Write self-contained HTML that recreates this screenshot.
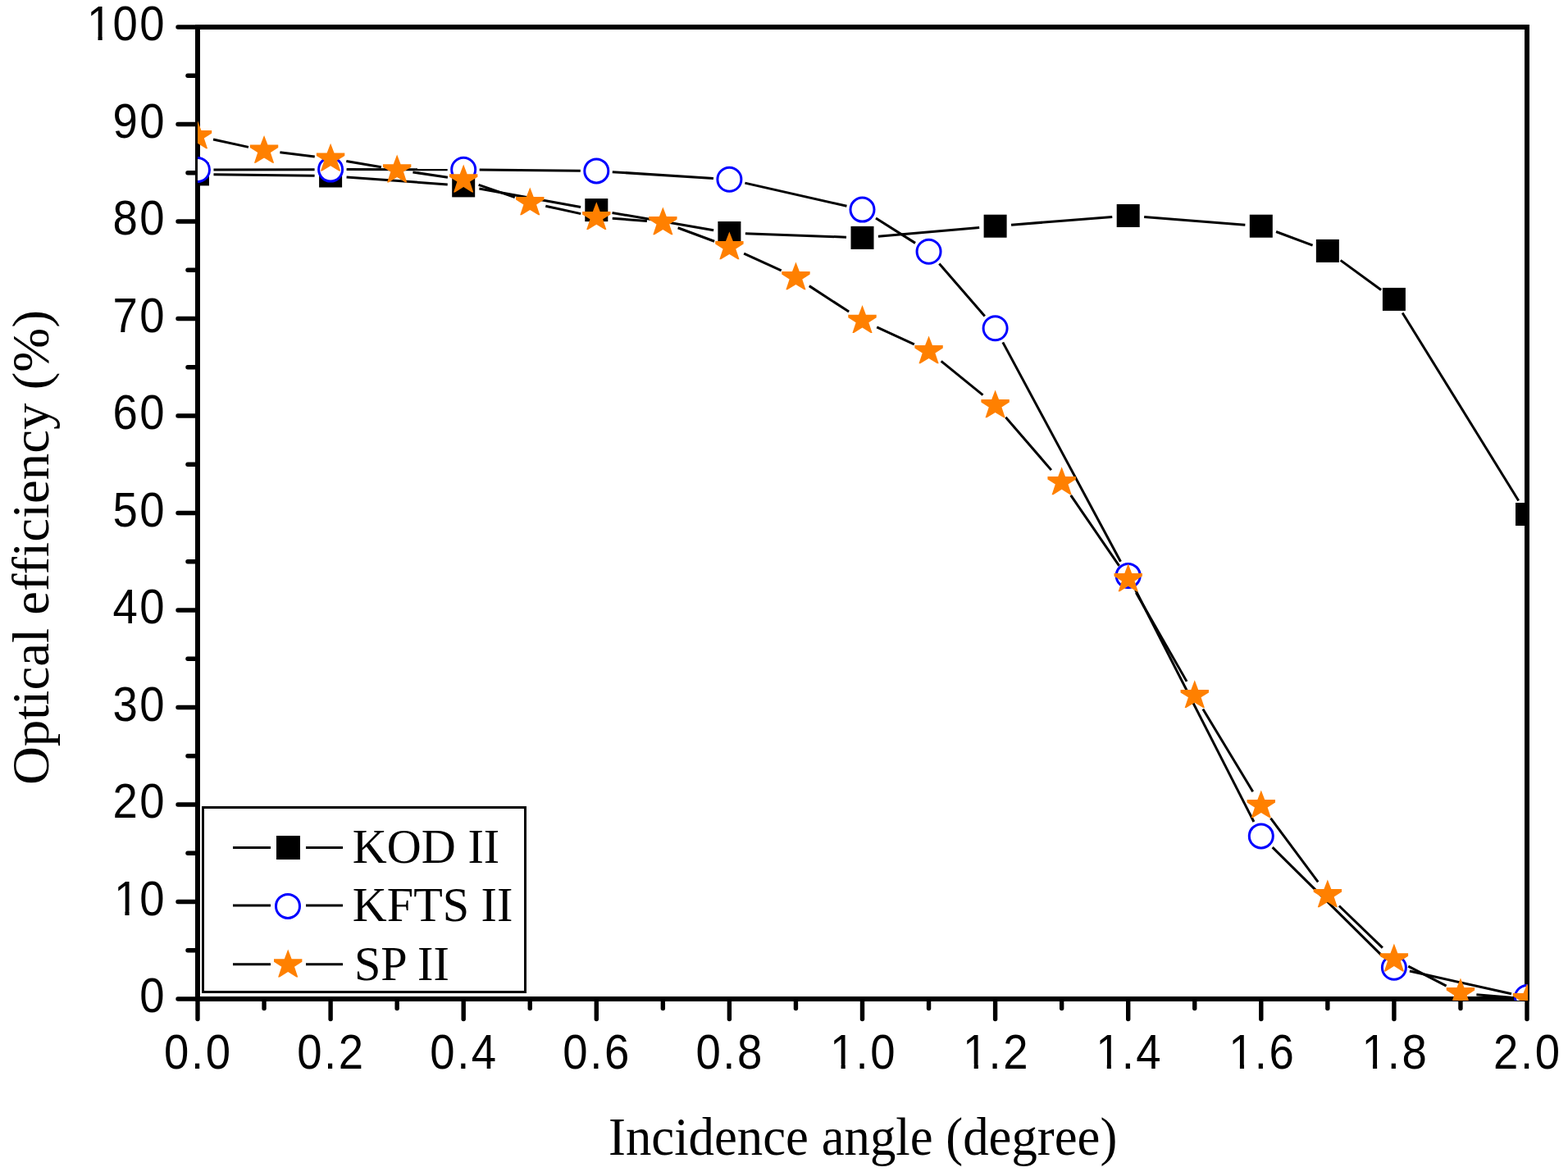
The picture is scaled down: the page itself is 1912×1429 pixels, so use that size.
<!DOCTYPE html>
<html><head><meta charset="utf-8"><title>Optical efficiency vs incidence angle</title>
<style>html,body{margin:0;padding:0;background:#fff;} body{width:1912px;height:1429px;overflow:hidden;} svg{display:block;}</style>
</head><body>
<svg width="1912" height="1429" viewBox="0 0 1912 1429">
<defs><clipPath id="pc"><rect x="241" y="33" width="1622" height="1187"/></clipPath></defs>
<rect width="1912" height="1429" fill="#fff"/>
<g stroke="#000" stroke-width="5.4" stroke-linecap="round">
<line x1="217" y1="1218.00" x2="241" y2="1218.00"/>
<line x1="229" y1="1158.75" x2="241" y2="1158.75"/>
<line x1="217" y1="1099.50" x2="241" y2="1099.50"/>
<line x1="229" y1="1040.25" x2="241" y2="1040.25"/>
<line x1="217" y1="981.00" x2="241" y2="981.00"/>
<line x1="229" y1="921.75" x2="241" y2="921.75"/>
<line x1="217" y1="862.50" x2="241" y2="862.50"/>
<line x1="229" y1="803.25" x2="241" y2="803.25"/>
<line x1="217" y1="744.00" x2="241" y2="744.00"/>
<line x1="229" y1="684.75" x2="241" y2="684.75"/>
<line x1="217" y1="625.50" x2="241" y2="625.50"/>
<line x1="229" y1="566.25" x2="241" y2="566.25"/>
<line x1="217" y1="507.00" x2="241" y2="507.00"/>
<line x1="229" y1="447.75" x2="241" y2="447.75"/>
<line x1="217" y1="388.50" x2="241" y2="388.50"/>
<line x1="229" y1="329.25" x2="241" y2="329.25"/>
<line x1="217" y1="270.00" x2="241" y2="270.00"/>
<line x1="229" y1="210.75" x2="241" y2="210.75"/>
<line x1="217" y1="151.50" x2="241" y2="151.50"/>
<line x1="229" y1="92.25" x2="241" y2="92.25"/>
<line x1="217" y1="33.00" x2="241" y2="33.00"/>
<line x1="241.00" y1="1218" x2="241.00" y2="1242.5"/>
<line x1="322.05" y1="1218" x2="322.05" y2="1229.5"/>
<line x1="403.10" y1="1218" x2="403.10" y2="1242.5"/>
<line x1="484.15" y1="1218" x2="484.15" y2="1229.5"/>
<line x1="565.20" y1="1218" x2="565.20" y2="1242.5"/>
<line x1="646.25" y1="1218" x2="646.25" y2="1229.5"/>
<line x1="727.30" y1="1218" x2="727.30" y2="1242.5"/>
<line x1="808.35" y1="1218" x2="808.35" y2="1229.5"/>
<line x1="889.40" y1="1218" x2="889.40" y2="1242.5"/>
<line x1="970.45" y1="1218" x2="970.45" y2="1229.5"/>
<line x1="1051.50" y1="1218" x2="1051.50" y2="1242.5"/>
<line x1="1132.55" y1="1218" x2="1132.55" y2="1229.5"/>
<line x1="1213.60" y1="1218" x2="1213.60" y2="1242.5"/>
<line x1="1294.65" y1="1218" x2="1294.65" y2="1229.5"/>
<line x1="1375.70" y1="1218" x2="1375.70" y2="1242.5"/>
<line x1="1456.75" y1="1218" x2="1456.75" y2="1229.5"/>
<line x1="1537.80" y1="1218" x2="1537.80" y2="1242.5"/>
<line x1="1618.85" y1="1218" x2="1618.85" y2="1229.5"/>
<line x1="1699.90" y1="1218" x2="1699.90" y2="1242.5"/>
<line x1="1780.95" y1="1218" x2="1780.95" y2="1229.5"/>
<line x1="1862.00" y1="1218" x2="1862.00" y2="1242.5"/>
</g>
<rect x="241" y="33" width="1621" height="1185" fill="none" stroke="#000" stroke-width="6"/>
<rect x="247.5" y="984.5" width="393" height="225" fill="none" stroke="#000" stroke-width="3"/>
<g clip-path="url(#pc)">
<g stroke="#000" stroke-width="3.0" fill="none">
<line x1="260.50" y1="212.65" x2="383.60" y2="214.25"/>
<line x1="422.55" y1="215.93" x2="545.75" y2="224.97"/>
<line x1="584.38" y1="229.91" x2="708.12" y2="252.59"/>
<line x1="746.52" y1="259.41" x2="870.18" y2="280.69"/>
<line x1="908.89" y1="284.71" x2="1032.01" y2="289.19"/>
<line x1="1070.93" y1="288.20" x2="1194.17" y2="277.40"/>
<line x1="1233.04" y1="274.18" x2="1356.26" y2="264.52"/>
<line x1="1395.14" y1="264.52" x2="1518.36" y2="274.18"/>
<line x1="1556.07" y1="282.51" x2="1600.58" y2="299.09"/>
<line x1="1634.62" y1="317.38" x2="1684.13" y2="353.42"/>
<line x1="1710.16" y1="381.48" x2="1851.74" y2="610.42"/>
</g>
<g fill="#000">
<rect x="227.00" y="198.40" width="28.0" height="28.0"/>
<rect x="389.10" y="200.50" width="28.0" height="28.0"/>
<rect x="551.20" y="212.40" width="28.0" height="28.0"/>
<rect x="713.30" y="242.10" width="28.0" height="28.0"/>
<rect x="875.40" y="270.00" width="28.0" height="28.0"/>
<rect x="1037.50" y="275.90" width="28.0" height="28.0"/>
<rect x="1199.60" y="261.70" width="28.0" height="28.0"/>
<rect x="1361.70" y="249.00" width="28.0" height="28.0"/>
<rect x="1523.80" y="261.70" width="28.0" height="28.0"/>
<rect x="1604.85" y="291.90" width="28.0" height="28.0"/>
<rect x="1685.90" y="350.90" width="28.0" height="28.0"/>
<rect x="1848.00" y="613.00" width="28.0" height="28.0"/>
</g>
<g stroke="#000" stroke-width="3.0" fill="none">
<line x1="260.50" y1="206.95" x2="383.60" y2="206.65"/>
<line x1="422.60" y1="206.62" x2="545.70" y2="206.78"/>
<line x1="584.70" y1="206.99" x2="707.80" y2="208.21"/>
<line x1="746.76" y1="209.65" x2="869.94" y2="217.55"/>
<line x1="908.42" y1="223.12" x2="1032.48" y2="251.28"/>
<line x1="1067.99" y1="266.01" x2="1116.06" y2="296.39"/>
<line x1="1145.33" y1="321.53" x2="1200.82" y2="385.47"/>
<line x1="1222.83" y1="417.38" x2="1366.47" y2="684.72"/>
<line x1="1384.57" y1="719.27" x2="1528.93" y2="1002.03"/>
<line x1="1551.66" y1="1033.12" x2="1686.04" y2="1166.08"/>
<line x1="1718.93" y1="1184.05" x2="1842.97" y2="1211.75"/>
</g>
<g fill="#fff" stroke="#0000ff" stroke-width="3.0">
<circle cx="241.00" cy="207.00" r="14.5"/>
<circle cx="403.10" cy="206.60" r="14.5"/>
<circle cx="565.20" cy="206.80" r="14.5"/>
<circle cx="727.30" cy="208.40" r="14.5"/>
<circle cx="889.40" cy="218.80" r="14.5"/>
<circle cx="1051.50" cy="255.60" r="14.5"/>
<circle cx="1132.55" cy="306.80" r="14.5"/>
<circle cx="1213.60" cy="400.20" r="14.5"/>
<circle cx="1375.70" cy="701.90" r="14.5"/>
<circle cx="1537.80" cy="1019.40" r="14.5"/>
<circle cx="1699.90" cy="1179.80" r="14.5"/>
<circle cx="1862.00" cy="1216.00" r="14.5"/>
</g>
<g stroke="#000" stroke-width="3.0" fill="none">
<line x1="260.06" y1="170.04" x2="302.99" y2="179.36"/>
<line x1="341.41" y1="185.84" x2="383.74" y2="190.96"/>
<line x1="422.32" y1="196.57" x2="464.93" y2="203.83"/>
<line x1="503.44" y1="209.96" x2="545.91" y2="216.24"/>
<line x1="583.64" y1="225.45" x2="627.81" y2="240.65"/>
<line x1="665.30" y1="251.18" x2="708.25" y2="260.62"/>
<line x1="746.74" y1="266.29" x2="788.91" y2="269.51"/>
<line x1="826.64" y1="277.77" x2="871.11" y2="294.23"/>
<line x1="907.14" y1="309.10" x2="952.71" y2="329.90"/>
<line x1="986.80" y1="348.63" x2="1035.15" y2="380.07"/>
<line x1="1069.21" y1="398.85" x2="1114.84" y2="419.85"/>
<line x1="1147.67" y1="440.31" x2="1198.48" y2="481.69"/>
<line x1="1226.34" y1="508.76" x2="1281.91" y2="573.14"/>
<line x1="1305.69" y1="603.97" x2="1364.66" y2="689.83"/>
<line x1="1385.37" y1="722.83" x2="1447.08" y2="830.87"/>
<line x1="1466.83" y1="864.49" x2="1527.72" y2="965.31"/>
<line x1="1549.44" y1="997.65" x2="1607.21" y2="1075.35"/>
<line x1="1632.88" y1="1104.54" x2="1685.87" y2="1155.66"/>
<line x1="1717.23" y1="1178.14" x2="1763.62" y2="1202.06"/>
<line x1="1800.38" y1="1212.68" x2="1842.57" y2="1216.32"/>
</g>
<g fill="#ff8000">
<polygon points="241.00,147.30 245.45,159.00 258.20,159.00 258.20,162.50 248.85,168.40 253.10,181.20 251.30,181.20 241.00,174.80 230.70,181.20 228.90,181.20 233.15,168.40 223.80,162.50 223.80,159.00 236.55,159.00"/>
<polygon points="322.05,164.90 326.50,176.60 339.25,176.60 339.25,180.10 329.90,186.00 334.15,198.80 332.35,198.80 322.05,192.40 311.75,198.80 309.95,198.80 314.20,186.00 304.85,180.10 304.85,176.60 317.60,176.60"/>
<polygon points="403.10,174.70 407.55,186.40 420.30,186.40 420.30,189.90 410.95,195.80 415.20,208.60 413.40,208.60 403.10,202.20 392.80,208.60 391.00,208.60 395.25,195.80 385.90,189.90 385.90,186.40 398.65,186.40"/>
<polygon points="484.15,188.50 488.60,200.20 501.35,200.20 501.35,203.70 492.00,209.60 496.25,222.40 494.45,222.40 484.15,216.00 473.85,222.40 472.05,222.40 476.30,209.60 466.95,203.70 466.95,200.20 479.70,200.20"/>
<polygon points="565.20,200.50 569.65,212.20 582.40,212.20 582.40,215.70 573.05,221.60 577.30,234.40 575.50,234.40 565.20,228.00 554.90,234.40 553.10,234.40 557.35,221.60 548.00,215.70 548.00,212.20 560.75,212.20"/>
<polygon points="646.25,228.40 650.70,240.10 663.45,240.10 663.45,243.60 654.10,249.50 658.35,262.30 656.55,262.30 646.25,255.90 635.95,262.30 634.15,262.30 638.40,249.50 629.05,243.60 629.05,240.10 641.80,240.10"/>
<polygon points="727.30,246.20 731.75,257.90 744.50,257.90 744.50,261.40 735.15,267.30 739.40,280.10 737.60,280.10 727.30,273.70 717.00,280.10 715.20,280.10 719.45,267.30 710.10,261.40 710.10,257.90 722.85,257.90"/>
<polygon points="808.35,252.40 812.80,264.10 825.55,264.10 825.55,267.60 816.20,273.50 820.45,286.30 818.65,286.30 808.35,279.90 798.05,286.30 796.25,286.30 800.50,273.50 791.15,267.60 791.15,264.10 803.90,264.10"/>
<polygon points="889.40,282.40 893.85,294.10 906.60,294.10 906.60,297.60 897.25,303.50 901.50,316.30 899.70,316.30 889.40,309.90 879.10,316.30 877.30,316.30 881.55,303.50 872.20,297.60 872.20,294.10 884.95,294.10"/>
<polygon points="970.45,319.40 974.90,331.10 987.65,331.10 987.65,334.60 978.30,340.50 982.55,353.30 980.75,353.30 970.45,346.90 960.15,353.30 958.35,353.30 962.60,340.50 953.25,334.60 953.25,331.10 966.00,331.10"/>
<polygon points="1051.50,372.10 1055.95,383.80 1068.70,383.80 1068.70,387.30 1059.35,393.20 1063.60,406.00 1061.80,406.00 1051.50,399.60 1041.20,406.00 1039.40,406.00 1043.65,393.20 1034.30,387.30 1034.30,383.80 1047.05,383.80"/>
<polygon points="1132.55,409.40 1137.00,421.10 1149.75,421.10 1149.75,424.60 1140.40,430.50 1144.65,443.30 1142.85,443.30 1132.55,436.90 1122.25,443.30 1120.45,443.30 1124.70,430.50 1115.35,424.60 1115.35,421.10 1128.10,421.10"/>
<polygon points="1213.60,475.40 1218.05,487.10 1230.80,487.10 1230.80,490.60 1221.45,496.50 1225.70,509.30 1223.90,509.30 1213.60,502.90 1203.30,509.30 1201.50,509.30 1205.75,496.50 1196.40,490.60 1196.40,487.10 1209.15,487.10"/>
<polygon points="1294.65,569.30 1299.10,581.00 1311.85,581.00 1311.85,584.50 1302.50,590.40 1306.75,603.20 1304.95,603.20 1294.65,596.80 1284.35,603.20 1282.55,603.20 1286.80,590.40 1277.45,584.50 1277.45,581.00 1290.20,581.00"/>
<polygon points="1375.70,687.30 1380.15,699.00 1392.90,699.00 1392.90,702.50 1383.55,708.40 1387.80,721.20 1386.00,721.20 1375.70,714.80 1365.40,721.20 1363.60,721.20 1367.85,708.40 1358.50,702.50 1358.50,699.00 1371.25,699.00"/>
<polygon points="1456.75,829.20 1461.20,840.90 1473.95,840.90 1473.95,844.40 1464.60,850.30 1468.85,863.10 1467.05,863.10 1456.75,856.70 1446.45,863.10 1444.65,863.10 1448.90,850.30 1439.55,844.40 1439.55,840.90 1452.30,840.90"/>
<polygon points="1537.80,963.40 1542.25,975.10 1555.00,975.10 1555.00,978.60 1545.65,984.50 1549.90,997.30 1548.10,997.30 1537.80,990.90 1527.50,997.30 1525.70,997.30 1529.95,984.50 1520.60,978.60 1520.60,975.10 1533.35,975.10"/>
<polygon points="1618.85,1072.40 1623.30,1084.10 1636.05,1084.10 1636.05,1087.60 1626.70,1093.50 1630.95,1106.30 1629.15,1106.30 1618.85,1099.90 1608.55,1106.30 1606.75,1106.30 1611.00,1093.50 1601.65,1087.60 1601.65,1084.10 1614.40,1084.10"/>
<polygon points="1699.90,1150.60 1704.35,1162.30 1717.10,1162.30 1717.10,1165.80 1707.75,1171.70 1712.00,1184.50 1710.20,1184.50 1699.90,1178.10 1689.60,1184.50 1687.80,1184.50 1692.05,1171.70 1682.70,1165.80 1682.70,1162.30 1695.45,1162.30"/>
<polygon points="1780.95,1192.40 1785.40,1204.10 1798.15,1204.10 1798.15,1207.60 1788.80,1213.50 1793.05,1226.30 1791.25,1226.30 1780.95,1219.90 1770.65,1226.30 1768.85,1226.30 1773.10,1213.50 1763.75,1207.60 1763.75,1204.10 1776.50,1204.10"/>
<polygon points="1862.00,1199.40 1866.45,1211.10 1879.20,1211.10 1879.20,1214.60 1869.85,1220.50 1874.10,1233.30 1872.30,1233.30 1862.00,1226.90 1851.70,1233.30 1849.90,1233.30 1854.15,1220.50 1844.80,1214.60 1844.80,1211.10 1857.55,1211.10"/>
</g>
</g>
<g font-family="'Liberation Sans', Arial, sans-serif" font-size="59.3" letter-spacing="2.79" fill="#000" text-anchor="end">
<text transform="translate(203.20,1234.00) scale(0.920,1)">0</text>
<text transform="translate(201.70,1115.50) scale(0.920,1)"><tspan dx="1.63">1</tspan><tspan dx="-1.63">0</tspan></text>
<text transform="translate(203.20,997.00) scale(0.920,1)">20</text>
<text transform="translate(203.20,878.50) scale(0.920,1)">30</text>
<text transform="translate(203.20,760.00) scale(0.920,1)">40</text>
<text transform="translate(203.20,641.50) scale(0.920,1)">50</text>
<text transform="translate(203.20,523.00) scale(0.920,1)">60</text>
<text transform="translate(203.20,404.50) scale(0.920,1)">70</text>
<text transform="translate(203.20,286.00) scale(0.920,1)">80</text>
<text transform="translate(203.20,167.50) scale(0.920,1)">90</text>
<text transform="translate(201.70,49.00) scale(0.920,1)"><tspan dx="1.63">1</tspan><tspan dx="-1.63">0</tspan>0</text>
</g>
<g font-family="'Liberation Sans', Arial, sans-serif" font-size="59.3" letter-spacing="2.79" fill="#000" text-anchor="middle">
<text transform="translate(241.80,1302.5) scale(0.920,1)">0.0</text>
<text transform="translate(403.90,1302.5) scale(0.920,1)">0.2</text>
<text transform="translate(566.00,1302.5) scale(0.920,1)">0.4</text>
<text transform="translate(728.10,1302.5) scale(0.920,1)">0.6</text>
<text transform="translate(890.20,1302.5) scale(0.920,1)">0.8</text>
<text transform="translate(1051.55,1302.5) scale(0.920,1)"><tspan dx="1.63">1</tspan><tspan dx="-1.63">.</tspan>0</text>
<text transform="translate(1213.65,1302.5) scale(0.920,1)"><tspan dx="1.63">1</tspan><tspan dx="-1.63">.</tspan>2</text>
<text transform="translate(1375.75,1302.5) scale(0.920,1)"><tspan dx="1.63">1</tspan><tspan dx="-1.63">.</tspan>4</text>
<text transform="translate(1537.85,1302.5) scale(0.920,1)"><tspan dx="1.63">1</tspan><tspan dx="-1.63">.</tspan>6</text>
<text transform="translate(1699.95,1302.5) scale(0.920,1)"><tspan dx="1.63">1</tspan><tspan dx="-1.63">.</tspan>8</text>
<text transform="translate(1862.80,1302.5) scale(0.920,1)">2.0</text>
</g>
<g fill="#fff">
<rect x="142.04" y="1110.47" width="10.41" height="6.53"/>
<rect x="157.57" y="1110.47" width="9.99" height="6.53"/>
<rect x="109.13" y="43.97" width="10.41" height="6.53"/>
<rect x="124.67" y="43.97" width="9.99" height="6.53"/>
<rect x="1015.19" y="1297.47" width="10.41" height="6.53"/>
<rect x="1030.72" y="1297.47" width="9.99" height="6.53"/>
<rect x="1177.29" y="1297.47" width="10.41" height="6.53"/>
<rect x="1192.82" y="1297.47" width="9.99" height="6.53"/>
<rect x="1339.39" y="1297.47" width="10.41" height="6.53"/>
<rect x="1354.92" y="1297.47" width="9.99" height="6.53"/>
<rect x="1501.49" y="1297.47" width="10.41" height="6.53"/>
<rect x="1517.02" y="1297.47" width="9.99" height="6.53"/>
<rect x="1663.59" y="1297.47" width="10.41" height="6.53"/>
<rect x="1679.12" y="1297.47" width="9.99" height="6.53"/>
</g>
<g>
<style>.ll{stroke:#000;stroke-width:3.0} .lt{font-family:'Liberation Serif','Times New Roman',serif;font-size:59.2px;fill:#000}</style>
<line class="ll" x1="284" y1="1033.5" x2="330" y2="1033.5"/>
<line class="ll" x1="373" y1="1033.5" x2="418" y2="1033.5"/>
<rect x="337" y="1019" width="29" height="29" fill="#000"/>
<text class="lt" transform="translate(429.8,1052.1) scale(0.983,1)">KOD II</text>
<line class="ll" x1="284" y1="1104.0" x2="330" y2="1104.0"/>
<line class="ll" x1="373" y1="1104.0" x2="418" y2="1104.0"/>
<circle cx="351" cy="1104.9" r="14.5" fill="#fff" stroke="#0000ff" stroke-width="3.0"/>
<text class="lt" transform="translate(429.8,1123.0) scale(0.983,1)">KFTS II</text>
<line class="ll" x1="284" y1="1175.8" x2="330" y2="1175.8"/>
<line class="ll" x1="373" y1="1175.8" x2="418" y2="1175.8"/>
<polygon fill="#ff8000" points="351.20,1157.60 355.65,1169.30 368.40,1169.30 368.40,1172.80 359.05,1178.70 363.30,1191.50 361.50,1191.50 351.20,1185.10 340.90,1191.50 339.10,1191.50 343.35,1178.70 334.00,1172.80 334.00,1169.30 346.75,1169.30"/>
<text class="lt" transform="translate(432.0,1194.9) scale(0.983,1)">SP II</text>
</g>
<text transform="translate(742,1408) scale(0.966,1)" font-family="'Liberation Serif','Times New Roman',serif" font-size="65" fill="#000">Incidence angle (degree)</text>
<text transform="translate(59,957) rotate(-90) scale(1.011,1)" font-family="'Liberation Serif','Times New Roman',serif" font-size="64.2" fill="#000">Optical efficiency (%)</text>
</svg>
</body></html>
